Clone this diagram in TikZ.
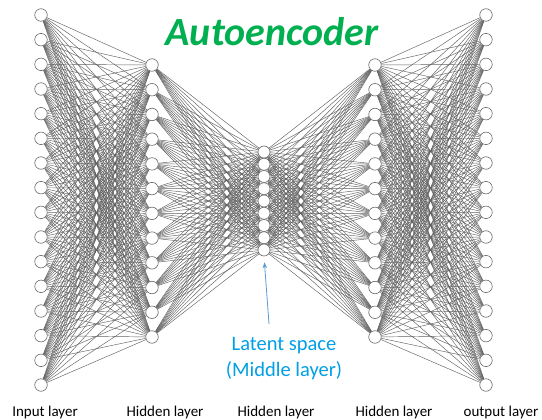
\documentclass[tikz,border=0pt]{standalone}
\usepackage{fontspec}
\setmainfont{Carlito}
\usetikzlibrary{arrows.meta}
\definecolor{titlegreen}{RGB}{0,176,80}
\definecolor{latentblue}{RGB}{0,160,230}
\definecolor{arrowblue}{RGB}{91,155,213}
\pgfdeclarelayer{bg}
\pgfsetlayers{bg,main}
\begin{document}
\begin{tikzpicture}[x=1pt,y=-1pt,
  neuron/.style={circle,draw=black!60,fill=white,line width=0.6pt,minimum size=12.5pt,inner sep=0pt},
  midneuron/.style={neuron,minimum size=12pt},
  link/.style={draw=black!62,line width=0.45pt},
  layerlabel/.style={font=\fontsize{15}{18}\selectfont,text=black,anchor=base,inner sep=0pt},
  latent/.style={font=\fontsize{20.5}{24}\selectfont,text=latentblue,anchor=base,inner sep=0pt}]
\useasboundingbox (0,0) rectangle (542,420);
\foreach \i in {1,...,16} \node[neuron] (a\i) at (41,{15+(\i-1)*24.667}) {};
\foreach \i in {1,...,12} \node[neuron] (b\i) at (152,{65+(\i-1)*24.727}) {};
\foreach \i in {1,...,9} \node[midneuron] (c\i) at (264,{152+(\i-1)*12.25}) {};
\foreach \i in {1,...,12} \node[neuron] (d\i) at (375,{65+(\i-1)*24.727}) {};
\foreach \i in {1,...,16} \node[neuron] (e\i) at (486,{15+(\i-1)*24.667}) {};
\begin{pgfonlayer}{bg}
\fill[white] (0,0) rectangle (542,420);
\foreach \i in {1,...,16} \foreach \j in {1,...,12} \draw[link] (a\i) -- (b\j);
\foreach \i in {1,...,12} \foreach \j in {1,...,9} \draw[link] (b\i) -- (c\j);
\foreach \i in {1,...,9} \foreach \j in {1,...,12} \draw[link] (c\i) -- (d\j);
\foreach \i in {1,...,12} \foreach \j in {1,...,16} \draw[link] (d\i) -- (e\j);
\end{pgfonlayer}
\node[font=\fontsize{40}{44}\selectfont\bfseries\itshape,text=titlegreen,anchor=base,inner sep=0pt] (title) at (272,46) {Autoencoder};
\node[layerlabel] (l1) at (45,416) {Input layer};
\node[layerlabel] (l2) at (165,416) {Hidden layer};
\node[layerlabel] (l3) at (276,416) {Hidden layer};
\node[layerlabel] (l4) at (394,416) {Hidden layer};
\node[layerlabel] (l5) at (501,416) {output layer};
\node[latent] (lat1) at (284,350) {Latent space};
\node[latent] (lat2) at (284,376) {(Middle layer)};
\coordinate (arrtail) at (269,324);
\draw[arrowblue,line width=0.8pt,-{Stealth[length=6pt,width=4.5pt]},shorten >=6pt] (arrtail) -- (c9.south);
\end{tikzpicture}
\end{document}
